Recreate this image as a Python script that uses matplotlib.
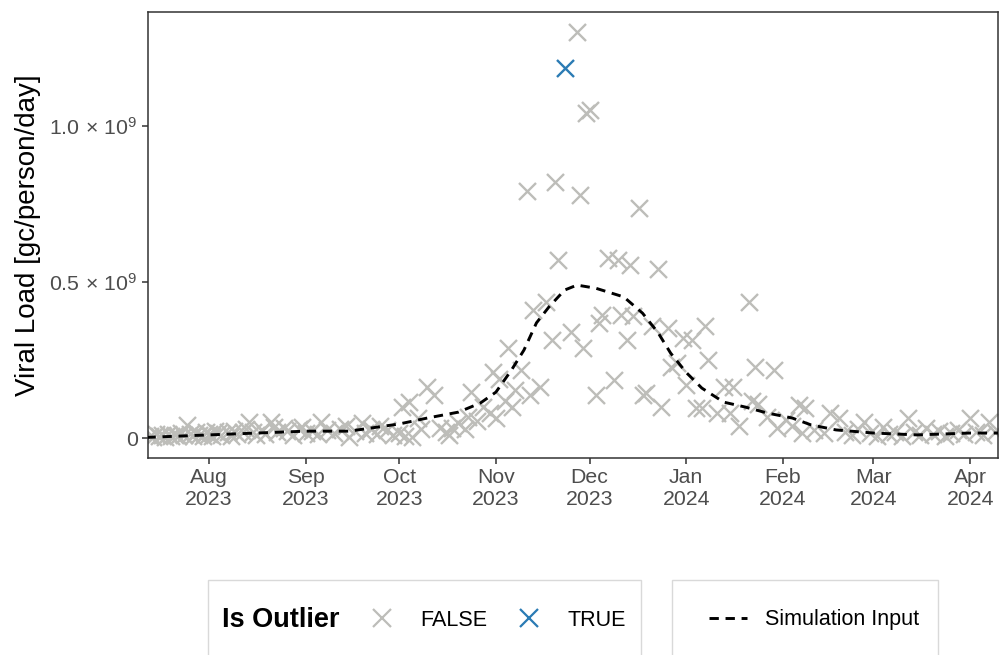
import numpy as np
import pandas as pd
import matplotlib
matplotlib.use('Agg')
import matplotlib.pyplot as plt
import matplotlib.dates as mdates
from matplotlib.lines import Line2D
from matplotlib.patches import Rectangle

plt.rcParams['font.family'] = ['Liberation Sans', 'DejaVu Sans']
plt.rcParams['mathtext.fontset'] = 'custom'
plt.rcParams['mathtext.rm'] = 'Liberation Sans'
plt.rcParams['mathtext.it'] = 'Liberation Sans'

# measured viral load (units of 1e9 gc/person/day)
obs_dates = ['2023-07-13', '2023-07-14', '2023-07-15', '2023-07-16', '2023-07-17', '2023-07-18',
             '2023-07-19', '2023-07-20', '2023-07-21', '2023-07-22', '2023-07-23', '2023-07-24',
             '2023-07-25', '2023-07-26', '2023-07-27', '2023-07-28', '2023-07-29', '2023-07-30',
             '2023-07-31', '2023-08-01', '2023-08-02', '2023-08-03', '2023-08-04', '2023-08-05',
             '2023-08-07', '2023-08-08', '2023-08-09', '2023-08-10', '2023-08-12', '2023-08-13',
             '2023-08-14', '2023-08-15', '2023-08-16', '2023-08-18', '2023-08-19', '2023-08-21',
             '2023-08-22', '2023-08-23', '2023-08-25', '2023-08-26', '2023-08-28', '2023-08-30',
             '2023-08-31', '2023-09-01', '2023-09-03', '2023-09-05', '2023-09-06', '2023-09-08',
             '2023-09-10', '2023-09-12', '2023-09-14', '2023-09-15', '2023-09-17', '2023-09-19',
             '2023-09-20', '2023-09-22', '2023-09-24', '2023-09-25', '2023-09-27', '2023-09-29',
             '2023-10-01', '2023-10-02', '2023-10-03', '2023-10-04', '2023-10-05', '2023-10-07',
             '2023-10-08', '2023-10-10', '2023-10-12', '2023-10-14', '2023-10-16', '2023-10-17',
             '2023-10-18', '2023-10-20', '2023-10-22', '2023-10-23', '2023-10-24', '2023-10-26',
             '2023-10-28', '2023-10-30', '2023-10-31', '2023-11-01', '2023-11-02', '2023-11-04',
             '2023-11-05', '2023-11-06', '2023-11-07', '2023-11-09', '2023-11-11', '2023-11-12',
             '2023-11-13', '2023-11-15', '2023-11-17', '2023-11-19', '2023-11-20', '2023-11-21',
             '2023-11-23', '2023-11-25', '2023-11-27', '2023-11-28', '2023-11-29', '2023-11-30',
             '2023-12-01', '2023-12-03', '2023-12-04', '2023-12-05', '2023-12-07', '2023-12-09',
             '2023-12-10', '2023-12-11', '2023-12-13', '2023-12-14', '2023-12-15', '2023-12-17',
             '2023-12-18', '2023-12-19', '2023-12-21', '2023-12-23', '2023-12-24', '2023-12-26',
             '2023-12-27', '2023-12-29', '2023-12-31', '2024-01-01', '2024-01-03', '2024-01-04',
             '2024-01-06', '2024-01-07', '2024-01-08', '2024-01-11', '2024-01-13', '2024-01-15',
             '2024-01-16', '2024-01-18', '2024-01-21', '2024-01-22', '2024-01-23', '2024-01-24',
             '2024-01-27', '2024-01-29', '2024-01-30', '2024-02-02', '2024-02-04', '2024-02-06',
             '2024-02-07', '2024-02-08', '2024-02-11', '2024-02-14', '2024-02-16', '2024-02-19',
             '2024-02-21', '2024-02-23', '2024-02-25', '2024-02-27', '2024-02-29', '2024-03-02',
             '2024-03-04', '2024-03-06', '2024-03-08', '2024-03-10', '2024-03-12', '2024-03-14',
             '2024-03-16', '2024-03-18', '2024-03-20', '2024-03-22', '2024-03-24', '2024-03-26',
             '2024-03-28', '2024-03-30', '2024-04-01', '2024-04-03', '2024-04-05', '2024-04-07',
             '2024-04-09']
obs_load = [0.008, 0.004, 0.012, 0.006, 0.010, 0.003,
            0.014, 0.007, 0.011, 0.005, 0.016, 0.009,
            0.042, 0.012, 0.007, 0.018, 0.010, 0.005,
            0.020, 0.012, 0.008, 0.022, 0.015, 0.010,
            0.019, 0.007, 0.024, 0.013, 0.018, 0.030,
            0.050, 0.020, 0.011, 0.026, 0.014, 0.050,
            0.036, 0.018, 0.032, 0.022, 0.010, 0.028,
            0.035, 0.016, 0.021, 0.013, 0.050, 0.025,
            0.017, 0.030, 0.040, 0.004, 0.022, 0.048,
            0.016, 0.030, 0.012, 0.040, 0.026, 0.010,
            0.016, 0.100, 0.008, 0.115, 0.003, 0.064,
            0.030, 0.163, 0.138, 0.032, 0.020, 0.010,
            0.032, 0.048, 0.030, 0.067, 0.147, 0.055,
            0.100, 0.080, 0.210, 0.064, 0.190, 0.120,
            0.288, 0.100, 0.154, 0.218, 0.790, 0.138,
            0.410, 0.163, 0.436, 0.314, 0.820, 0.570,
            1.186, 0.340, 1.300, 0.780, 0.290, 1.040,
            1.050, 0.138, 0.370, 0.394, 0.577, 0.186,
            0.570, 0.394, 0.314, 0.554, 0.390, 0.737,
            0.138, 0.144, 0.360, 0.540, 0.100, 0.353,
            0.228, 0.240, 0.320, 0.170, 0.314, 0.096,
            0.096, 0.360, 0.250, 0.080, 0.163, 0.080,
            0.163, 0.040, 0.436, 0.120, 0.228, 0.110,
            0.067, 0.218, 0.032, 0.058, 0.040, 0.106,
            0.016, 0.096, 0.026, 0.016, 0.080, 0.064,
            0.020, 0.010, 0.030, 0.050, 0.015, 0.008,
            0.035, 0.012, 0.020, 0.006, 0.064, 0.018,
            0.010, 0.032, 0.014, 0.022, 0.008, 0.016,
            0.025, 0.012, 0.064, 0.020, 0.010, 0.050,
            0.018]
outlier_dates = ['2023-11-23']

# simulation input curve (units of 1e9)
sim_dates = ['2023-07-12', '2023-08-01', '2023-09-01', '2023-09-15', '2023-10-01', '2023-10-10',
             '2023-10-20', '2023-10-27', '2023-11-01', '2023-11-06', '2023-11-10', '2023-11-14',
             '2023-11-18', '2023-11-23', '2023-11-27', '2023-12-03', '2023-12-12', '2023-12-18',
             '2023-12-23', '2023-12-27', '2024-01-01', '2024-01-06', '2024-01-13', '2024-01-20',
             '2024-01-27', '2024-02-04', '2024-02-10', '2024-02-18', '2024-03-01', '2024-03-15',
             '2024-04-01', '2024-04-10']
sim_load = [0.002, 0.010, 0.022, 0.022, 0.045, 0.064,
            0.083, 0.112, 0.147, 0.218, 0.282, 0.369,
            0.420, 0.474, 0.490, 0.480, 0.452, 0.400,
            0.337, 0.272, 0.210, 0.160, 0.115, 0.099,
            0.080, 0.064, 0.042, 0.026, 0.016, 0.010,
            0.016, 0.016]

obs = pd.DataFrame({'date': pd.to_datetime(obs_dates), 'load': np.array(obs_load) * 1e9})
obs['outlier'] = obs['date'].isin(pd.to_datetime(outlier_dates))
sim_t = pd.to_datetime(sim_dates)
sim_y = np.array(sim_load) * 1e9

grey = '#BDBDB9'
blue = '#2B7BB4'
txt = '#4D4D4D'
frame = '#333333'
dash = (0, (3.2, 2.3))

fig = plt.figure(figsize=(10.02, 6.55), dpi=100)
ax = fig.add_axes([148 / 1002, 1 - 458 / 655, (998 - 148) / 1002, (458 - 12) / 655])

normal = obs[~obs['outlier']]
odd = obs[obs['outlier']]
ax.scatter(normal['date'], normal['load'], marker='x', s=150, linewidths=1.7, color=grey, zorder=2)
ax.scatter(odd['date'], odd['load'], marker='x', s=150, linewidths=1.7, color=blue, zorder=3)
ax.plot(sim_t, sim_y, color='black', linestyle=dash, linewidth=2.1, zorder=4)

ax.set_xlim(pd.Timestamp('2023-07-12 12:00'), pd.Timestamp('2024-04-09 22:00'))
ax.set_ylim(-0.064e9, 1.365e9)

ax.xaxis.set_major_locator(mdates.MonthLocator())
ax.xaxis.set_major_formatter(mdates.DateFormatter('%b\n%Y'))
ax.set_yticks([0, 0.5e9, 1.0e9])
ax.set_yticklabels(['0', r'$0.5\,\times\,10^{9}$', r'$1.0\,\times\,10^{9}$'])
ax.tick_params(axis='both', colors=frame, labelcolor=txt, labelsize=15.3, length=4, width=1.1)
ax.tick_params(axis='x', pad=3)
for sp in ax.spines.values():
    sp.set_color(frame)
    sp.set_linewidth(1.1)
ax.set_ylabel('Viral Load [gc/person/day]', fontsize=20, color='black', labelpad=6)
for lbl in ax.get_xticklabels():
    lbl.set_linespacing(1.2)

# legend boxes
fig.patches.append(Rectangle((208 / 1002, -0.05), (641 - 208) / 1002, 0.05 + 1 - 580 / 655,
                             transform=fig.transFigure, fill=False, edgecolor='#D9D9D9', linewidth=1))
fig.patches.append(Rectangle((672 / 1002, -0.05), (938 - 672) / 1002, 0.05 + 1 - 580 / 655,
                             transform=fig.transFigure, fill=False, edgecolor='#D9D9D9', linewidth=1))
fig.text(222 / 1002, 1 - 620 / 655, 'Is Outlier', fontsize=19.5, fontweight='bold', va='center', ha='left')

h_false = Line2D([], [], marker='x', linestyle='none', color=grey, markersize=12.5, markeredgewidth=1.6)
h_true = Line2D([], [], marker='x', linestyle='none', color=blue, markersize=12.5, markeredgewidth=1.6)
fig.legend([h_false, h_true], ['FALSE', 'TRUE'], ncol=2, frameon=False, fontsize=15.5,
           loc='center left', bbox_to_anchor=(346 / 1002, 1 - 620 / 655),
           handlelength=1.5, handletextpad=1.05, columnspacing=1.2)
h_sim = Line2D([], [], color='black', linestyle=dash, linewidth=2.1)
fig.legend([h_sim], ['Simulation Input'], frameon=False, fontsize=15.5,
           loc='center left', bbox_to_anchor=(690 / 1002, 1 - 620 / 655),
           handlelength=1.75, handletextpad=0.85)

fig.savefig('out.png', dpi=100)
